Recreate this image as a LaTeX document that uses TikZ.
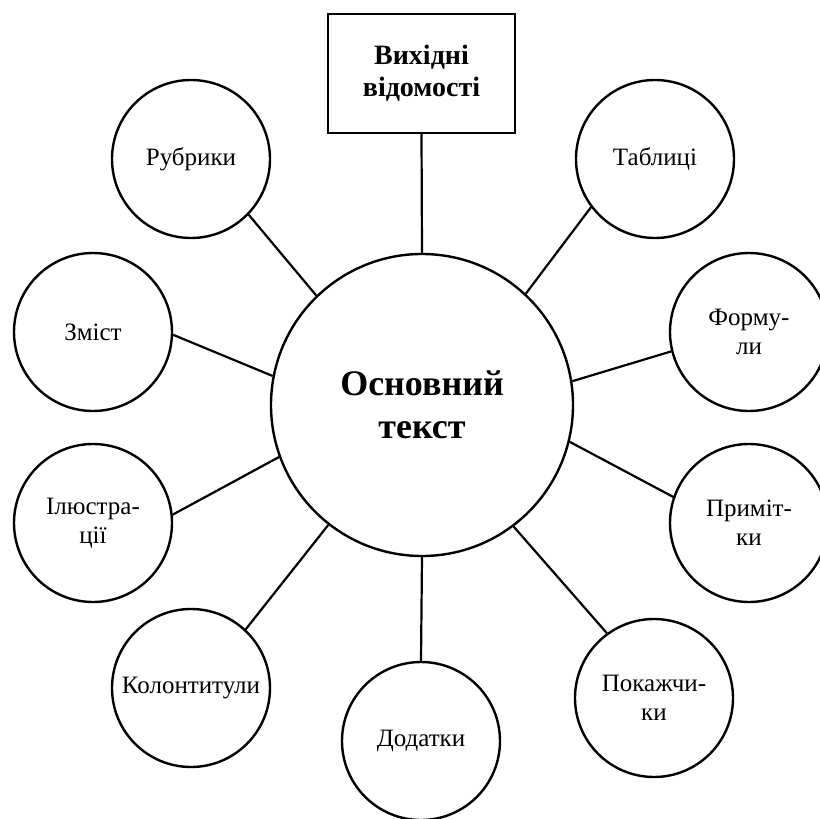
\documentclass[tikz,border=0pt]{standalone}
\usepackage{fontspec}
\setmainfont{Liberation Serif}
\begin{document}
\begin{tikzpicture}[x=1pt,y=-1pt,
  small/.style={draw, circle, line width=2.4pt, minimum size=158pt, inner sep=0pt, align=center, font=\fontsize{25}{29}\selectfont},
  big/.style={draw, circle, line width=2.4pt, minimum size=302pt, inner sep=0pt, align=center, font=\fontsize{36}{43}\selectfont\bfseries},
  boxnode/.style={draw, rectangle, line width=2.4pt, minimum width=187pt, minimum height=119pt, inner sep=0pt, align=center, font=\fontsize{28}{32}\selectfont\bfseries},
  link/.style={line width=2.2pt}]
\useasboundingbox (0,0) rectangle (820,819);
\node[big] (c) at (422,405) {Основний\\текст};
\node[boxnode] (src) at (421.5,73.5) {Вихідні\\відомості};
\node[small] (rub) at (191,159) {Рубрики};
\node[small] (tab) at (655,159) {Таблиці};
\node[small] (zm) at (93,332) {Зміст};
\node[small] (form) at (749,332) {Форму-\\ли};
\node[small] (il) at (93,523) {Ілюстра-\\ції};
\node[small] (prim) at (749,523) {Примі\-т-\\ки};
\node[small] (kol) at (191,688) {Колонтитули};
\node[small] (dod) at (421,741) {Додатки};
\node[small] (pok) at (654,698) {Покажчи-\\ки};
\draw[link] (src.south) -- (c.90);
\draw[link] (rub.-44) -- (c.134);
\draw[link] (tab.217.6) -- (c.47.1);
\draw[link] (zm.-2.9) -- (c.169.7);
\draw[link] (form.194.9) -- (c.9.7);
\draw[link] (il.6.4) -- (c.200);
\draw[link] (prim.161.1) -- (c.-14.3);
\draw[link] (kol.47) -- (c.232.2);
\draw[link] (pok.126.9) -- (c.307.2);
\draw[link] (dod.north) -- (c.south);
\end{tikzpicture}
\end{document}
